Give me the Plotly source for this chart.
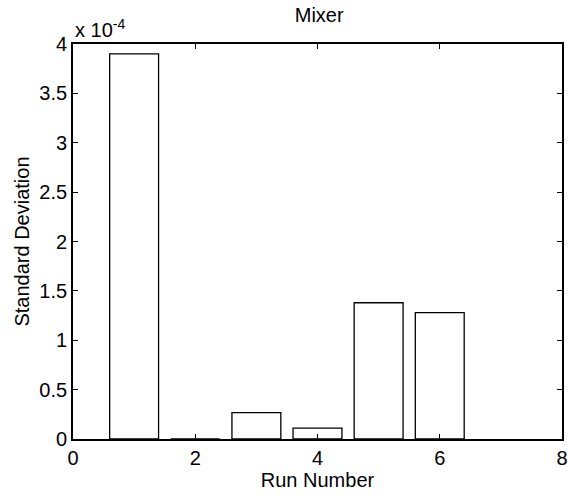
import plotly.graph_objects as go

runs = [1, 2, 3, 4, 5, 6]
std_dev_e4 = [3.90, 0.0, 0.267, 0.11, 1.38, 1.28]  # in units of 1e-4
scale = 1e-4
y_ticks = [0, 0.5, 1, 1.5, 2, 2.5, 3, 3.5, 4]
y_tick_labels = ["0", "0.5", "1", "1.5", "2", "2.5", "3", "3.5", "4"]
x_ticks = [0, 2, 4, 6, 8]

FONT = "Liberation Sans, Arial, Helvetica, sans-serif"

fig = go.Figure()
fig.add_trace(go.Bar(
    x=runs,
    y=[v * scale for v in std_dev_e4],
    width=0.8,
    marker=dict(color="white", line=dict(color="black", width=1.3)),
))

fig.update_layout(
    width=568, height=502,
    margin=dict(l=73, r=6, t=44, b=63, autoexpand=False),
    paper_bgcolor="white", plot_bgcolor="white",
    showlegend=False,
    font=dict(family=FONT, size=20, color="black"),
    title=dict(text="Mixer", x=0.562, xanchor="center", xref="container",
               y=0.985, yanchor="top",
               font=dict(family=FONT, size=20, color="black")),
    xaxis=dict(
        range=[0, 8], tickvals=x_ticks, ticks="inside", ticklen=5, tickwidth=1,
        tickcolor="black", showline=True, linecolor="black", linewidth=1.8,
        mirror="ticks", showgrid=False, zeroline=False, automargin=False,
        title=dict(text="Run Number", standoff=0, font=dict(size=20)),
        tickfont=dict(size=20),
    ),
    yaxis=dict(
        range=[0, 4 * scale], tickvals=[t * scale for t in y_ticks],
        ticktext=y_tick_labels, ticks="inside", ticklen=5, tickwidth=1,
        tickcolor="black", showline=True, linecolor="black", linewidth=1.8,
        mirror="ticks", showgrid=False, zeroline=False, automargin=False,
        title=dict(text="Standard Deviation", standoff=4, font=dict(size=20)),
        tickfont=dict(size=20),
    ),
    annotations=[dict(
        text="x 10<sup>-4</sup>", xref="paper", yref="paper", x=0.0, y=1.0,
        xanchor="left", yanchor="bottom", showarrow=False,
        font=dict(family=FONT, size=20, color="black"), yshift=1,
    )],
)

fig.write_html("out.html", config={"displayModeBar": False},
               post_script="document.body.style.margin='0px';")
